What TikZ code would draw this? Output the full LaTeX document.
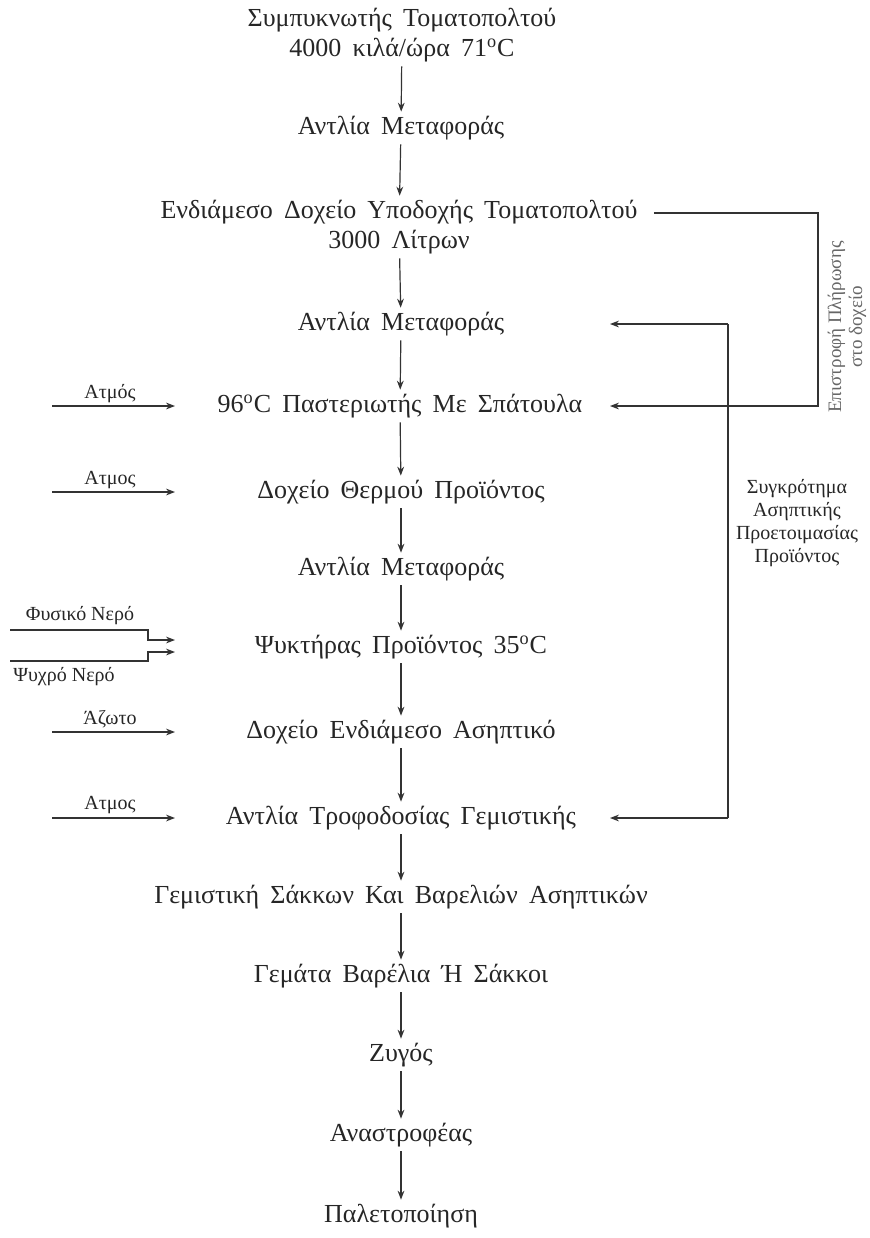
\documentclass[tikz,border=0pt]{standalone}
\usepackage{fontspec}
\setmainfont{Liberation Serif}
\usetikzlibrary{arrows.meta}
\newcommand\widespace{\spaceskip=0.43em plus 0.1em\relax}

\begin{document}
\begin{tikzpicture}[x=0.5pt,y=-0.5pt,
  every node/.style={text=black!85},
  stage/.style={font=\fontsize{13}{15}\selectfont\widespace,align=center,inner sep=2pt},
  tag/.style={font=\fontsize{10}{11.5}\selectfont,inner sep=1pt},
  flow/.style={draw=black!80,line width=0.6pt,-{Stealth[length=4.5pt,width=3.4pt]}},
  pipe/.style={draw=black!80,line width=0.6pt}]
  \useasboundingbox (0,0) rectangle (869,1238);

  \node[stage] (cond) at (402,35) {Συμπυκνωτής Τοματοπολτού\\4000 κιλά/ώρα 71\textsuperscript{o}C};
  \node[stage] (pump1) at (401,128) {Αντλία Μεταφοράς};
  \node[stage] (tank) at (399,227) {Ενδιάμεσο Δοχείο Υποδοχής Τοματοπολτού\\3000 Λίτρων};
  \node[stage] (pump2) at (401,324) {Αντλία Μεταφοράς};
  \node[stage] (past) at (400,406) {96\textsuperscript{o}C Παστεριωτής Με Σπάτουλα};
  \node[stage] (hot) at (401,492) {Δοχείο Θερμού Προϊόντος};
  \node[stage] (pump3) at (401,569) {Αντλία Μεταφοράς};
  \node[stage] (cool) at (401,647) {Ψυκτήρας Προϊόντος 35\textsuperscript{o}C};
  \node[stage] (asep) at (401,732) {Δοχείο Ενδιάμεσο Ασηπτικό};
  \node[stage] (feed) at (401,818) {Αντλία Τροφοδοσίας Γεμιστικής};
  \node[stage] (fill) at (401,897) {Γεμιστική Σάκκων Και Βαρελιών Ασηπτικών};
  \node[stage] (full) at (401,976) {Γεμάτα Βαρέλια Ή Σάκκοι};
  \node[stage] (scale) at (401,1055) {Ζυγός};
  \node[stage] (flip) at (401,1135) {Αναστροφέας};
  \node[stage] (pal) at (401,1216) {Παλετοποίηση};

  \foreach \a/\b in {cond/pump1,pump1/tank,tank/pump2,pump2/past,past/hot,hot/pump3,
                     pump3/cool,cool/asep,asep/feed,feed/fill,fill/full,full/scale,
                     scale/flip,flip/pal}
    \draw[flow] (\a) -- (\b);

  % inputs on the left
  \coordinate (src) at (52,0);
  \coordinate (inx) at (175,0);
  \coordinate (wsrc) at (10,0);
  \coordinate (wbend) at (148,0);
  \draw[flow] (past -| src) -- (past -| inx);
  \node[tag] (steam1) at (110,394) {Ατμός};
  \draw[flow] (hot -| src) -- (hot -| inx);
  \node[tag] (steam2) at (110,480) {Ατμος};
  \draw[flow] (asep -| src) -- (asep -| inx);
  \node[tag] (nitro) at (110,719) {Άζωτο};
  \draw[flow] (feed -| src) -- (feed -| inx);
  \node[tag] (steam3) at (110,805) {Ατμος};

  \coordinate (wA) at (0,630);
  \coordinate (wB) at (0,661);
  \coordinate (wAin) at (175,640);
  \coordinate (wBin) at (175,652);
  \draw[flow] (wA -| wsrc) -- (wA -| wbend) |- (wAin);
  \draw[flow] (wB -| wsrc) -- (wB -| wbend) |- (wBin);
  \node[tag] (natw) at (80,616) {Φυσικό Νερό};
  \node[tag] (coldw) at (64,677) {Ψυχρό Νερό};

  % returns on the right
  \coordinate (tipx) at (610,0);
  \coordinate (retx) at (818,0);
  \coordinate (busx) at (728,0);
  \draw[flow] ([xshift=6pt]tank.east |- 0,213) -- (retx |- 0,213) -- (retx |- past) -- (past -| tipx);
  \node[tag,rotate=90,align=center,text=black!60,font=\fontsize{9.5}{10.5}\selectfont] (ret) at (847,327) {Επιστροφή Πλήρωσης\\στο δοχείο};
  \draw[flow] (pump2 -| busx) -- (pump2 -| tipx);
  \draw[flow] (feed -| busx) -- (feed -| tipx);
  \draw[pipe] (pump2 -| busx) -- (feed -| busx);
  \node[tag,align=center] (aspl) at (797,523) {Συγκρότημα\\Ασηπτικής\\Προετοιμασίας\\Προϊόντος};
\end{tikzpicture}
\end{document}
